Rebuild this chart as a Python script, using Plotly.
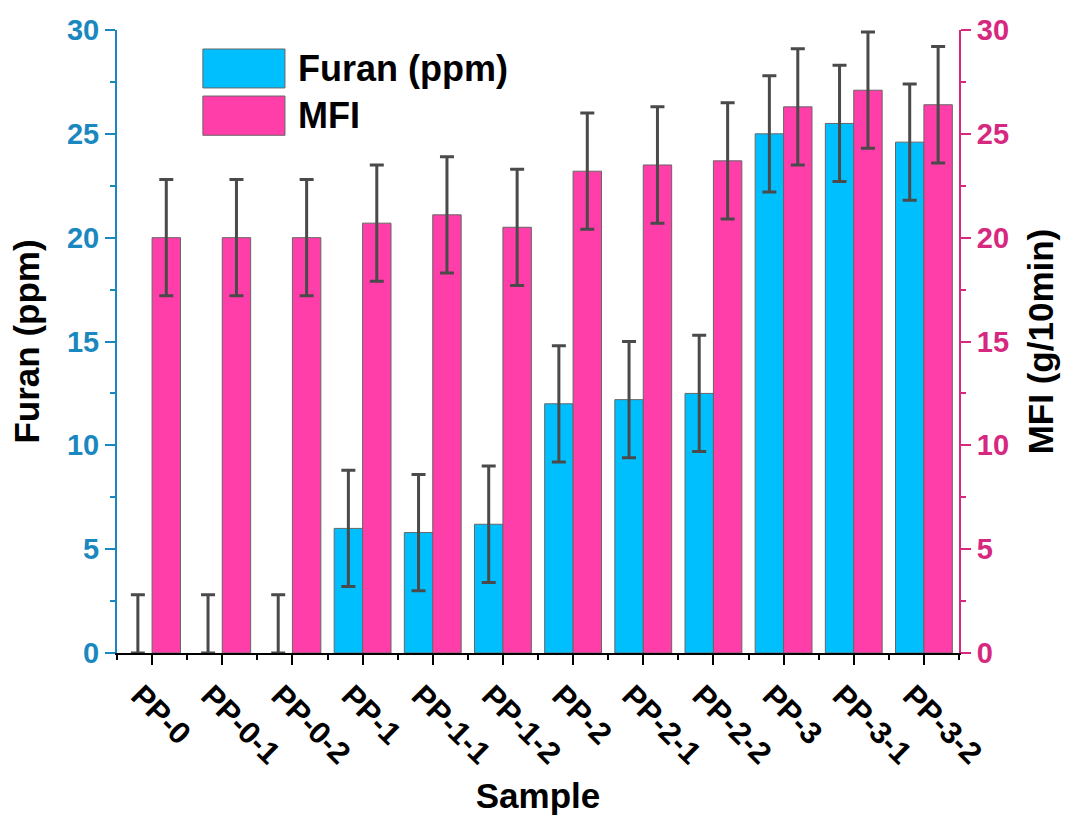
import plotly.graph_objects as go

samples = ["PP-0", "PP-0-1", "PP-0-2", "PP-1", "PP-1-1", "PP-1-2",
           "PP-2", "PP-2-1", "PP-2-2", "PP-3", "PP-3-1", "PP-3-2"]
furan = [0, 0, 0, 6.0, 5.8, 6.2, 12.0, 12.2, 12.5, 25.0, 25.5, 24.6]
furan_err_plus = [2.8] * 12
furan_err_minus = [0, 0, 0, 2.8, 2.8, 2.8, 2.8, 2.8, 2.8, 2.8, 2.8, 2.8]
mfi = [20.0, 20.0, 20.0, 20.7, 21.1, 20.5, 23.2, 23.5, 23.7, 26.3, 27.1, 26.4]
mfi_err = [2.8] * 12
y_ticks = [0, 5, 10, 15, 20, 25, 30]

BLUE = "#00BFFF"
PINK = "#FF3EAA"
LBLUE = "#1A88BF"
MAG = "#D6287E"
FONT = "Arial, Liberation Sans, sans-serif"

xpos = list(range(len(samples)))
furan_line_w = [0 if v == 0 else 1 for v in furan]

fig = go.Figure()
fig.add_trace(go.Bar(
    x=xpos, y=furan, name="Furan (ppm)", yaxis="y", offsetgroup="a",
    marker=dict(color=BLUE, line=dict(color="#666666", width=furan_line_w)),
    error_y=dict(type="data", array=furan_err_plus, arrayminus=furan_err_minus,
                 symmetric=False, color="#4a4a4a", thickness=3, width=7),
    showlegend=False,
))
fig.add_trace(go.Bar(
    x=xpos, y=mfi, name="MFI", yaxis="y2", offsetgroup="b",
    marker=dict(color=PINK, line=dict(color="#666666", width=1)),
    error_y=dict(type="data", array=mfi_err, color="#4a4a4a", thickness=3, width=7),
    showlegend=False,
))

# manual legend (large swatches as in the reference)
fig.add_shape(type="rect", xref="paper", yref="paper", x0=0.102, x1=0.1995, y0=0.907, y1=0.9695,
              fillcolor=BLUE, line=dict(color="#666666", width=1))
fig.add_shape(type="rect", xref="paper", yref="paper", x0=0.102, x1=0.1995, y0=0.831, y1=0.894,
              fillcolor=PINK, line=dict(color="#666666", width=1))
fig.add_annotation(xref="paper", yref="paper", x=0.2125, y=0.938, text="<b>Furan (ppm)</b>",
                   showarrow=False, xanchor="left", yanchor="middle",
                   font=dict(family=FONT, size=36, color="black"))
fig.add_annotation(xref="paper", yref="paper", x=0.2125, y=0.862, text="<b>MFI</b>",
                   showarrow=False, xanchor="left", yanchor="middle",
                   font=dict(family=FONT, size=36, color="black"))

fig.update_layout(
    width=1065, height=821,
    margin=dict(l=117, r=106, t=30, b=168),
    paper_bgcolor="white", plot_bgcolor="white",
    barmode="group", bargap=0.19, bargroupgap=0,
    font=dict(family=FONT),
    xaxis=dict(
        range=[-0.5, 11.5], tickmode="array", tickvals=xpos, ticktext=samples,
        tickangle=45, showgrid=False, zeroline=False,
        showline=True, linecolor="black", linewidth=2,
        ticks="outside", ticklen=10, tickwidth=2, tickcolor="black",
        tickfont=dict(family=FONT, size=31, color="black", weight="bold"),
        ticklabelshift=-12,
        minor=dict(tickmode="linear", tick0=-0.5, dtick=1, ticks="outside",
                   ticklen=5, tickwidth=2, tickcolor="black"),
        title=dict(text="<b>Sample</b>", font=dict(family=FONT, size=35, color="black"),
                   standoff=14),
    ),
    yaxis=dict(
        range=[0, 30], tickvals=y_ticks, showgrid=False, zeroline=False,
        showline=True, linecolor=LBLUE, linewidth=2,
        ticks="outside", ticklen=10, tickwidth=2, tickcolor=LBLUE,
        tickfont=dict(family=FONT, size=29, color=LBLUE, weight="bold"),
        minor=dict(tickmode="linear", tick0=2.5, dtick=5, ticks="outside",
                   ticklen=5, tickwidth=2, tickcolor=LBLUE),
        title=dict(text="<b>Furan (ppm)</b>", font=dict(family=FONT, size=35, color="black"),
                   standoff=17),
    ),
    yaxis2=dict(
        range=[0, 30], tickvals=y_ticks, overlaying="y", side="right",
        showgrid=False, zeroline=False,
        showline=True, linecolor=MAG, linewidth=2,
        ticks="outside", ticklen=10, tickwidth=2, tickcolor=MAG,
        tickfont=dict(family=FONT, size=29, color=MAG, weight="bold"),
        minor=dict(tickmode="linear", tick0=2.5, dtick=5, ticks="outside",
                   ticklen=5, tickwidth=2, tickcolor=MAG),
        title=dict(text="<b>MFI (g/10min)</b>", font=dict(family=FONT, size=35, color="black"),
                   standoff=20),
    ),
)

fig.write_html("out.html")
